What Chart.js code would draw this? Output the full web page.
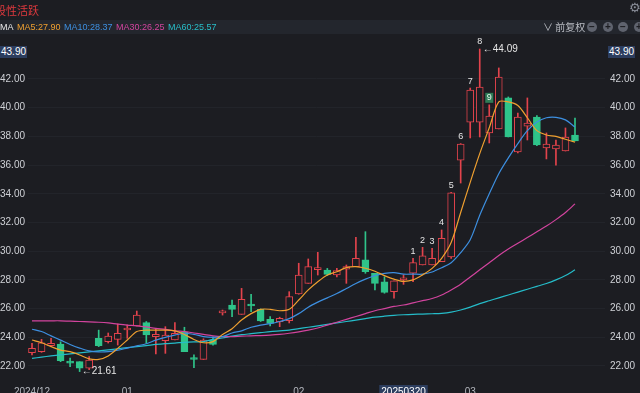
<!DOCTYPE html>
<html>
<head>
<meta charset="utf-8">
<script src="https://cdn.jsdelivr.net/npm/chart.js@4.4.1/dist/chart.umd.min.js"></script>
<style>
  html,body{margin:0;padding:0;background:#1c1d22;}
  #wrap{position:relative;width:640px;height:393px;overflow:hidden;background:#1c1d22;font-family:"Liberation Sans",Arial,sans-serif;}
  canvas{position:absolute;left:0;top:0;}
  .ov{position:absolute;white-space:nowrap;pointer-events:none;}
  .band{position:absolute;left:0;top:20px;width:640px;height:14px;background:#23262d;}
  .leg{font-size:9px;top:21px;line-height:12px;}
  .pbox{position:absolute;top:46px;height:12px;line-height:12px;font-size:10px;color:#fff;background:#2c3d5e;padding:0 1px;}
  .ic{position:absolute;top:22px;width:10px;height:10px;border-radius:50%;background:#5f636e;color:#1c1d22;font-size:10px;line-height:10px;text-align:center;font-weight:bold;}
</style>
</head>
<body>
<div id="wrap">
  <canvas id="c" width="640" height="393"></canvas>
  <div class="band"></div>
  <div class="ov" style="left:-5px;top:2px;font-size:11px;color:#e0393e;font-family:'Noto Sans CJK SC',sans-serif;line-height:16px;">股性活跃</div>
  <div class="ov" style="left:629px;top:0px;font-size:13px;color:#8a8e99;font-family:'DejaVu Sans';">⚙</div>
  <div class="ov leg" style="left:0;color:#e8e8e8;">MA</div>
  <div class="ov leg" style="left:17px;color:#f0a030;">MA5:27.90</div>
  <div class="ov leg" style="left:64px;color:#3d8fe0;">MA10:28.37</div>
  <div class="ov leg" style="left:116px;color:#d2449e;">MA30:26.25</div>
  <div class="ov leg" style="left:168px;color:#28bfc9;">MA60:25.57</div>
  <div class="ov" style="left:543px;top:20px;font-size:10px;line-height:14px;color:#b8bbc2;font-family:'Noto Sans CJK SC',sans-serif;">∨ 前复权</div>
  <div class="ic" style="left:587px;">−</div>
  <div class="ic" style="left:603px;">+</div>
  <div class="ic" style="left:618px;">−</div>
  <div class="ic" style="left:634px;">+</div>
  <div class="pbox" style="left:0;">43.90</div>
  <div class="pbox" style="left:608px;">43.90</div>
</div>
<script>
// ---- data ----
const openP  = [22.93,23.00,23.41,23.53,22.30,22.30,21.84,23.93,23.69,23.86,24.51,24.79,25.02,24.04,23.76,23.81,24.35,22.52,22.46,23.81,
                25.70,26.25,25.60,26.30,25.95,25.25,25.09,25.16,27.02,27.76,28.72,28.69,28.35,28.74,28.92,29.39,28.46,27.87,27.18,28.00,
                28.46,29.04,29.04,29.27,29.60,36.35,39.00,39.00,38.24,38.52,40.68,36.91,38.72,39.35,37.19,37.12,36.98,38.10];
const closeP = [23.23,23.62,23.58,22.37,22.20,21.84,22.42,23.41,24.09,24.28,24.63,25.55,24.16,24.21,24.16,24.28,23.00,22.45,23.81,23.51,
                25.80,25.95,26.65,26.18,25.14,24.97,25.32,26.83,28.34,28.92,28.80,28.39,28.65,28.92,29.50,28.57,27.76,27.13,27.94,28.15,
                29.20,29.67,29.50,30.90,34.06,37.47,41.23,41.44,39.42,42.14,37.96,39.35,38.93,37.40,37.47,37.40,37.96,37.68];
const highP  = [23.58,23.86,23.93,23.69,22.56,22.30,22.65,24.50,24.30,24.93,24.86,25.83,25.10,24.56,24.74,25.02,24.70,22.77,23.90,24.04,
                25.90,26.60,27.41,27.00,25.98,25.44,25.40,27.18,29.16,29.46,29.92,28.80,28.80,29.04,30.97,31.36,28.46,28.22,27.94,28.35,
                29.50,30.27,30.20,31.48,34.10,37.50,41.37,44.09,40.20,42.77,40.75,39.63,40.68,39.45,38.24,37.75,38.59,39.28];
const lowP   = [22.77,22.95,23.38,22.30,21.95,21.61,21.75,23.35,23.60,23.46,23.93,24.79,23.58,22.84,22.88,23.81,23.00,21.88,22.46,23.45,
                25.55,25.44,25.60,25.78,25.10,24.79,24.74,25.00,27.00,27.76,28.34,28.30,28.20,27.76,28.92,28.46,27.30,27.07,26.72,27.69,
                27.87,29.04,29.04,29.27,29.50,34.75,37.89,37.96,37.54,38.52,37.96,36.84,37.75,37.35,36.43,36.00,36.98,37.68];
const ma5  = [23.81,23.62,23.35,23.11,23.00,22.77,22.50,22.46,22.70,23.23,23.81,24.40,24.50,24.50,24.50,24.45,24.20,23.85,23.62,23.70,
              24.20,24.60,25.20,25.65,25.95,25.95,25.85,25.95,26.60,27.30,27.87,28.34,28.57,28.85,28.92,28.81,28.60,28.30,28.05,27.90,
              28.00,28.35,28.80,29.50,30.60,32.70,34.80,36.80,38.60,40.40,40.40,40.15,39.30,38.40,38.10,38.00,37.80,37.60];
const ma10 = [24.56,24.40,24.10,23.80,23.50,23.25,23.05,22.98,23.00,23.10,23.25,23.40,23.55,23.80,24.00,24.15,24.28,24.20,24.05,24.00,
              24.05,24.30,24.45,24.70,24.85,24.95,25.10,25.30,25.65,26.10,26.45,26.75,27.05,27.40,27.75,28.05,28.30,28.45,28.50,28.40,
              28.40,28.40,28.55,28.85,29.20,29.90,30.80,32.50,34.00,35.40,36.50,37.50,38.40,39.00,39.30,39.33,39.15,38.65];
const ma30 = [25.14,25.15,25.15,25.15,25.12,25.10,25.08,25.05,25.00,24.92,24.85,24.80,24.72,24.62,24.55,24.45,24.40,24.30,24.20,24.10,
              24.05,24.05,24.08,24.10,24.12,24.15,24.20,24.28,24.38,24.50,24.65,24.85,25.05,25.25,25.45,25.65,25.85,26.00,26.15,26.25,
              26.40,26.55,26.70,26.95,27.30,27.70,28.20,28.70,29.20,29.70,30.15,30.55,30.95,31.35,31.75,32.20,32.70,33.30];
const ma60 = [22.53,22.62,22.70,22.78,22.85,22.92,22.98,23.05,23.12,23.20,23.28,23.35,23.42,23.50,23.56,23.60,23.65,23.68,23.70,23.85,
              23.95,24.08,24.18,24.25,24.32,24.40,24.45,24.50,24.60,24.70,24.80,24.90,25.00,25.10,25.20,25.30,25.40,25.47,25.53,25.57,
              25.60,25.62,25.64,25.67,25.75,25.90,26.10,26.35,26.55,26.75,26.95,27.15,27.35,27.55,27.75,28.00,28.30,28.70];
const tdIdx   = [40,41,42,43,44,45,46,47,48];
const tdText  = ['1','2','3','4','5','6','7','8','9'];
const yTicks  = [22,24,26,28,30,32,34,36,38,40,42];
const xLabelIdx  = [0,10,28,46];
const xLabelText = ['2024/12','01','02','03'];
const markIdx = 39, markText = '20250320';
const lowIdx = 5, highIdx = 47;

// ---- chart ----
const BG = '#1c1d22', UP = '#e2434c', DOWN = '#2fc48a';
const idx = openP.map((_, i) => i);
const isUp = i => closeP[i] >= openP[i];

const annot = {
  id: 'annot',
  afterDatasetsDraw(chart) {
    const {ctx, scales: {x, y}} = chart;
    ctx.save();
    ctx.font = '9px "Liberation Sans", Arial, sans-serif';
    ctx.textAlign = 'center';
    ctx.textBaseline = 'middle';
    tdIdx.forEach((i, k) => {
      const px = x.getPixelForValue(i);
      const py = y.getPixelForValue(highP[i]) - 7;
      if (tdText[k] === '9') {
        ctx.fillStyle = '#2f7d57';
        ctx.fillRect(px - 4, py - 5, 8, 10);
        ctx.fillStyle = '#e6f2ea';
      } else {
        ctx.fillStyle = '#e6e6e6';
      }
      ctx.fillText(tdText[k], px, py);
    });
    ctx.font = '10px "Liberation Sans", Arial, sans-serif';
    ctx.textAlign = 'left';
    ctx.fillStyle = '#e6e6e6';
    ctx.fillText('\u2190' + lowP[lowIdx].toFixed(2), x.getPixelForValue(lowIdx) + 2, y.getPixelForValue(lowP[lowIdx]));
    ctx.fillText('\u2190' + highP[highIdx].toFixed(2), x.getPixelForValue(highIdx) + 3, y.getPixelForValue(highP[highIdx]));
    // x labels
    ctx.textAlign = 'center';
    ctx.textBaseline = 'top';
    ctx.fillStyle = '#b4b7be';
    xLabelIdx.forEach((i, k) => ctx.fillText(xLabelText[k], x.getPixelForValue(i), 387));
    const mx = x.getPixelForValue(markIdx);
    const w = ctx.measureText(markText).width + 4;
    ctx.fillStyle = '#2c3d5e';
    ctx.fillRect(mx - w / 2, 385, w, 12);
    ctx.fillStyle = '#ffffff';
    ctx.fillText(markText, mx, 387);
    ctx.restore();
  }
};

const lineDs = (data, color) => ({
  type: 'line', data: data.map((v, i) => ({x: i, y: v})), borderColor: color, borderWidth: 1.2,
  pointRadius: 0, tension: 0.3, fill: false, order: 1, yAxisID: 'y'
});

new Chart(document.getElementById('c'), {
  type: 'bar',
  data: {
    datasets: [
      {
        data: idx.map(i => ({x: i, y: [lowP[i], highP[i]]})),
        backgroundColor: idx.map(i => isUp(i) ? UP : DOWN),
        borderWidth: 0, barThickness: 1, grouped: false, order: 3, minBarLength: 1, yAxisID: 'y'
      },
      {
        data: idx.map(i => ({x: i, y: [openP[i], closeP[i]]})),
        backgroundColor: idx.map(i => isUp(i) ? BG : DOWN),
        borderColor: idx.map(i => isUp(i) ? UP : DOWN),
        borderWidth: 1, borderSkipped: false, barThickness: 7, grouped: false, order: 2, minBarLength: 2, yAxisID: 'y'
      },
      lineDs(ma5, '#f0a030'),
      lineDs(ma10, '#3d8fe0'),
      lineDs(ma30, '#d2449e'),
      lineDs(ma60, '#25bcc9')
    ]
  },
  options: {
    responsive: false, animation: false, devicePixelRatio: 1,
    layout: {padding: {top: 38, bottom: 13, left: 0, right: 0}},
    plugins: {legend: {display: false}, tooltip: {enabled: false}},
    scales: {
      x: {type: 'linear', min: -0.42, max: 60.15, offset: false, display: false},
      y: {
        position: 'left', min: 21.024, max: 44.857,
        afterFit: s => { s.width = 28; },
        afterBuildTicks: s => { s.ticks = yTicks.map(v => ({value: v})); },
        ticks: {crossAlign: 'far', padding: 0, color: '#cfd1d6', font: {size: 10, family: '"Liberation Sans", Arial, sans-serif'},
                callback: v => Number(v).toFixed(2)},
        grid: {color: '#22242a', drawTicks: false}, border: {display: false}
      },
      y2: {
        position: 'right', min: 21.024, max: 44.857,
        afterFit: s => { s.width = 35; },
        afterBuildTicks: s => { s.ticks = yTicks.map(v => ({value: v})); },
        ticks: {crossAlign: 'near', padding: 5, color: '#cfd1d6', font: {size: 10, family: '"Liberation Sans", Arial, sans-serif'},
                callback: v => Number(v).toFixed(2)},
        grid: {display: false, drawTicks: false}, border: {display: false}
      }
    }
  },
  plugins: [annot]
});
</script>
</body>
</html>
